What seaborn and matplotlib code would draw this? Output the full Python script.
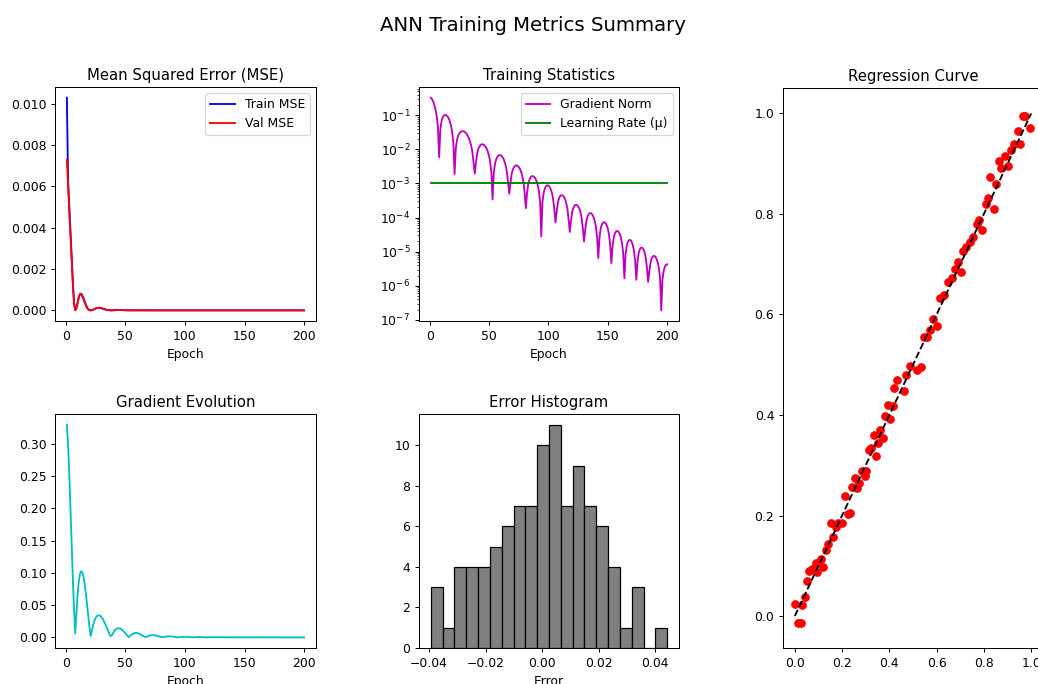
import matplotlib
matplotlib.use("Agg")
import matplotlib.pyplot as plt
import seaborn as sns

# ---------------- data ----------------
epochs = list(range(1, 201))

grad_norm = [
    0.330, 0.300, 0.255, 0.200, 0.145, 0.092, 0.045, 0.0058, 0.0378, 0.0669,
    0.0869, 0.0983, 0.1027, 0.1011, 0.0936, 0.0817, 0.0667, 0.0498, 0.0323, 0.0154,
    0.0019, 0.01018, 0.01857, 0.02506, 0.02971, 0.03264, 0.03393, 0.03416, 0.03350, 0.03172,
    0.02902, 0.02558, 0.02159, 0.01726, 0.01277, 0.00830, 0.00400, 0.00195, 0.004056, 0.007516,
    0.01029, 0.01231, 0.01359, 0.01413, 0.01399, 0.01332, 0.01212, 0.01050, 0.00858, 0.00645,
    0.00425, 0.00207, 3.4e-4, 2.003e-3, 3.719e-3, 5.082e-3, 6.067e-3, 6.649e-3, 6.854e-3, 6.69e-3,
    6.2e-3, 5.451e-3, 4.495e-3, 3.411e-3, 2.256e-3, 1.101e-3, 5.0e-4, 9.97e-4, 1.848e-3, 2.525e-3,
    3.01e-3, 3.298e-3, 3.393e-3, 3.311e-3, 3.06e-3, 2.681e-3, 2.206e-3, 1.668e-3, 1.1e-3, 5.35e-4,
    1.9e-4, 5.17e-4, 9.52e-4, 1.288e-3, 1.516e-3, 1.633e-3, 1.646e-3, 1.566e-3, 1.404e-3, 1.176e-3,
    9.02e-4, 6.01e-4, 2.95e-4, 2.8e-5, 2.886e-4, 5.305e-4, 7.142e-4, 8.322e-4, 8.828e-4, 8.7e-4,
    7.95e-4, 6.746e-4, 5.211e-4, 3.485e-4, 1.708e-4, 7.2e-5, 1.527e-4, 2.795e-4, 3.733e-4, 4.33e-4,
    4.569e-4, 4.476e-4, 4.093e-4, 3.474e-4, 2.685e-4, 1.798e-4, 8.81e-5, 3.8e-5, 7.89e-5, 1.444e-4,
    1.933e-4, 2.241e-4, 2.366e-4, 2.34e-4, 2.158e-4, 1.848e-4, 1.441e-4, 9.73e-5, 4.81e-5, 2.0e-5,
    4.39e-5, 8.1e-5, 1.093e-4, 1.278e-4, 1.362e-4, 1.336e-4, 1.223e-4, 1.039e-4, 8.05e-5, 5.39e-5,
    2.64e-5, 6.5e-6, 2.59e-5, 4.7e-5, 6.23e-5, 7.1e-5, 7.32e-5, 6.94e-5, 6.05e-5, 4.76e-5,
    3.23e-5, 1.59e-5, 4.6e-6, 1.43e-5, 2.6e-5, 3.45e-5, 3.93e-5, 4.06e-5, 3.83e-5, 3.33e-5,
    2.61e-5, 1.76e-5, 8.68e-6, 1.66e-6, 8.49e-6, 1.53e-5, 1.98e-5, 2.2e-5, 2.19e-5, 1.98e-5,
    1.6e-5, 1.1e-5, 5.52e-6, 1.5e-6, 4.97e-6, 8.99e-6, 1.17e-5, 1.31e-5, 1.31e-5, 1.18e-5,
    9.51e-6, 6.54e-6, 3.26e-6, 1.3e-6, 2.66e-6, 4.84e-6, 6.4e-6, 7.3e-6, 7.52e-6, 7.14e-6,
    6.23e-6, 4.91e-6, 3.34e-6, 1.65e-6, 1.9e-7, 1.49e-6, 2.71e-6, 3.6e-6, 4.12e-6, 4.26e-6,
]

train_mse = [
    0.0103, 0.0063, 0.0050, 0.0038, 0.0026, 0.0014, 0.0004, 0.00001, 0.00010, 0.00035,
    0.00062, 0.00079, 0.00081, 0.00072, 0.00058, 0.00042, 0.00027, 0.00014, 0.00005, 0.00001,
    0.0, 0.00001, 0.00003, 0.00006, 0.00009, 0.00011, 0.00012, 0.00013, 0.00012, 0.00011,
    0.00009, 0.00007, 0.00005, 0.00003, 0.00002, 0.00001, 2e-6, 0.0, 1e-6, 5e-6,
    9e-6, 1.3e-5, 1.6e-5, 1.7e-5, 1.7e-5, 1.5e-5, 1.2e-5, 9e-6, 6e-6, 4e-6,
    2e-6, 4e-7, 0.0, 3e-7, 1e-6, 2e-6, 3e-6, 3.8e-6, 4e-6, 3.8e-6,
    3.3e-6, 2.5e-6, 1.7e-6, 1e-6, 4e-7, 1e-7, 0.0, 1e-7, 3e-7, 5e-7,
    8e-7, 9e-7, 1e-6, 9e-7, 8e-7, 6e-7, 4e-7, 2e-7, 1e-7, 0.0,
    0, 0, 0, 0, 0, 0, 0, 0, 0, 0, 0, 0, 0, 0, 0, 0, 0, 0, 0, 0,
    0, 0, 0, 0, 0, 0, 0, 0, 0, 0, 0, 0, 0, 0, 0, 0, 0, 0, 0, 0,
    0, 0, 0, 0, 0, 0, 0, 0, 0, 0, 0, 0, 0, 0, 0, 0, 0, 0, 0, 0,
    0, 0, 0, 0, 0, 0, 0, 0, 0, 0, 0, 0, 0, 0, 0, 0, 0, 0, 0, 0,
    0, 0, 0, 0, 0, 0, 0, 0, 0, 0, 0, 0, 0, 0, 0, 0, 0, 0, 0, 0,
    0, 0, 0, 0, 0, 0, 0, 0, 0, 0, 0, 0, 0, 0, 0, 0, 0, 0, 0, 0,
]

val_mse = [
    0.0073, 0.0061, 0.0049, 0.0037, 0.0025, 0.0013, 0.0003, 0.00001, 0.00012, 0.00038,
    0.00064, 0.00079, 0.00078, 0.00067, 0.00052, 0.00036, 0.00022, 0.00011, 0.00004, 0.00001,
    0.0, 0.00001, 0.00003, 0.00006, 0.00008, 0.00010, 0.00012, 0.00012, 0.00012, 0.00010,
    0.00008, 0.00006, 0.00004, 0.00003, 0.00002, 0.00001, 2e-6, 0.0, 1e-6, 4e-6,
    8e-6, 1.2e-5, 1.5e-5, 1.6e-5, 1.6e-5, 1.4e-5, 1.1e-5, 8e-6, 6e-6, 4e-6,
    2e-6, 4e-7, 0.0, 3e-7, 1e-6, 2e-6, 3e-6, 3.6e-6, 3.8e-6, 3.6e-6,
    3.1e-6, 2.4e-6, 1.6e-6, 1e-6, 4e-7, 1e-7, 0.0, 1e-7, 3e-7, 5e-7,
    7e-7, 9e-7, 9e-7, 9e-7, 7e-7, 6e-7, 4e-7, 2e-7, 1e-7, 0.0,
    0, 0, 0, 0, 0, 0, 0, 0, 0, 0, 0, 0, 0, 0, 0, 0, 0, 0, 0, 0,
    0, 0, 0, 0, 0, 0, 0, 0, 0, 0, 0, 0, 0, 0, 0, 0, 0, 0, 0, 0,
    0, 0, 0, 0, 0, 0, 0, 0, 0, 0, 0, 0, 0, 0, 0, 0, 0, 0, 0, 0,
    0, 0, 0, 0, 0, 0, 0, 0, 0, 0, 0, 0, 0, 0, 0, 0, 0, 0, 0, 0,
    0, 0, 0, 0, 0, 0, 0, 0, 0, 0, 0, 0, 0, 0, 0, 0, 0, 0, 0, 0,
    0, 0, 0, 0, 0, 0, 0, 0, 0, 0, 0, 0, 0, 0, 0, 0, 0, 0, 0, 0,
]

learning_rate = 0.001

hist_counts = [3, 1, 4, 4, 4, 5, 6, 7, 7, 10, 11, 7, 9, 7, 6, 4, 1, 3, 0, 1]
hist_range = (-0.0394, 0.0442)

reg_targets = [
    0.000, 0.014, 0.025, 0.032, 0.042, 0.051, 0.060, 0.072, 0.088, 0.095,
    0.109, 0.121, 0.133, 0.142, 0.152, 0.163, 0.173, 0.184, 0.201, 0.212,
    0.225, 0.233, 0.243, 0.253, 0.264, 0.272, 0.285, 0.295, 0.303, 0.313,
    0.323, 0.334, 0.342, 0.351, 0.362, 0.373, 0.380, 0.393, 0.404, 0.415,
    0.421, 0.432, 0.460, 0.472, 0.488, 0.516, 0.535, 0.547, 0.561, 0.573,
    0.584, 0.601, 0.615, 0.632, 0.646, 0.664, 0.678, 0.692, 0.702, 0.710,
    0.724, 0.741, 0.752, 0.769, 0.780, 0.794, 0.808, 0.817, 0.825, 0.842,
    0.851, 0.865, 0.872, 0.890, 0.904, 0.914, 0.929, 0.945, 0.954, 0.966,
    0.974, 0.994,
]
reg_outputs = [
    0.023, -0.013, -0.013, 0.021, 0.038, 0.069, 0.089, 0.093, 0.106, 0.087,
    0.113, 0.097, 0.132, 0.143, 0.185, 0.158, 0.177, 0.186, 0.185, 0.238,
    0.203, 0.205, 0.256, 0.275, 0.254, 0.264, 0.289, 0.278, 0.289, 0.331,
    0.335, 0.360, 0.319, 0.344, 0.370, 0.355, 0.397, 0.419, 0.392, 0.417,
    0.453, 0.469, 0.448, 0.479, 0.497, 0.490, 0.495, 0.555, 0.555, 0.570,
    0.591, 0.578, 0.633, 0.638, 0.664, 0.673, 0.691, 0.704, 0.685, 0.726,
    0.734, 0.744, 0.755, 0.780, 0.787, 0.768, 0.819, 0.832, 0.873, 0.810,
    0.860, 0.905, 0.891, 0.916, 0.895, 0.927, 0.940, 0.966, 0.940, 0.995,
    0.995, 0.972,
]
ideal_line = [0.0, 1.0]

# ---------------- figure ----------------
DPI = 89
W, H = 1038, 684
fig = plt.figure(figsize=(W / DPI, H / DPI), dpi=DPI)


def px_axes(left, top, right, bottom):
    return fig.add_axes([left / W, 1 - bottom / H, (right - left) / W, (bottom - top) / H])


ax_mse = px_axes(55, 87, 316, 321)
ax_stat = px_axes(419, 87, 679, 321)
ax_gev = px_axes(55, 414, 316, 648)
ax_hist = px_axes(419, 414, 679, 648)
ax_reg = px_axes(783, 88, 1043, 648)

# MSE
sns.lineplot(x=epochs, y=train_mse, ax=ax_mse, color="b", label="Train MSE")
sns.lineplot(x=epochs, y=val_mse, ax=ax_mse, color="r", label="Val MSE")
ax_mse.set_title("Mean Squared Error (MSE)")
ax_mse.set_xlabel("Epoch")
ax_mse.legend(loc="upper right")

# Training statistics
lr_series = [learning_rate for _ in epochs]
sns.lineplot(x=epochs, y=grad_norm, ax=ax_stat, color="m", label="Gradient Norm")
sns.lineplot(x=epochs, y=lr_series, ax=ax_stat, color="g", label="Learning Rate (\u03bc)")
ax_stat.set_yscale("log")
ax_stat.set_title("Training Statistics")
ax_stat.set_xlabel("Epoch")
ax_stat.legend(loc="upper right")

# Gradient evolution
sns.lineplot(x=epochs, y=grad_norm, ax=ax_gev, color="c")
ax_gev.set_title("Gradient Evolution")
ax_gev.set_xlabel("Epoch")

# Error histogram
n_bins = len(hist_counts)
bw = (hist_range[1] - hist_range[0]) / n_bins
centers = [hist_range[0] + (i + 0.5) * bw for i in range(n_bins)]
sns.histplot(x=centers, weights=hist_counts, bins=n_bins, binrange=hist_range,
             color="gray", edgecolor="black", alpha=1.0, linewidth=1.0, ax=ax_hist)
ax_hist.set_title("Error Histogram")
ax_hist.set_xlabel("Error")
ax_hist.set_ylabel("")

# Regression
sns.scatterplot(x=reg_targets, y=reg_outputs, ax=ax_reg, color="r", s=36,
                edgecolor="r", linewidth=1.0, zorder=2)
sns.lineplot(x=ideal_line, y=ideal_line, ax=ax_reg, color="k", linestyle="--", zorder=3)
ax_reg.set_title("Regression Curve")

fig.suptitle("ANN Training Metrics Summary", x=533 / W, y=0.976, fontsize=16)

fig.savefig("out.png", dpi=DPI)
